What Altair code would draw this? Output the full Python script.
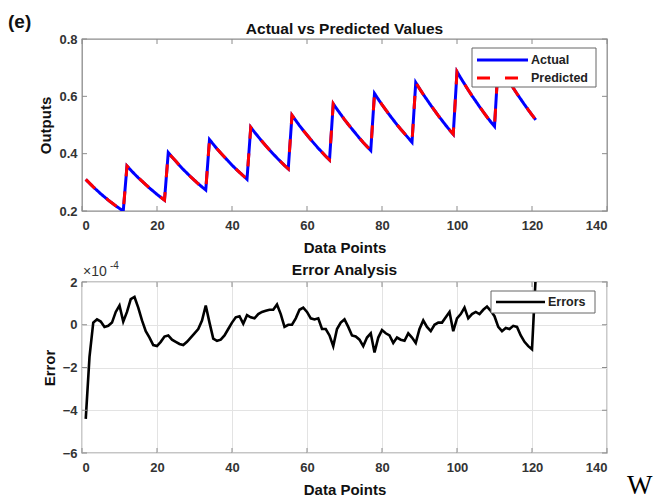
import altair as alt
import pandas as pd

# ---------------- data ----------------
x_points = list(range(1, 122))

actual = [
    0.310, 0.297, 0.284, 0.272, 0.260, 0.249, 0.238, 0.228, 0.218, 0.209, 0.200,
    0.357, 0.343, 0.329, 0.316, 0.304, 0.292, 0.280, 0.269, 0.258, 0.248, 0.238,
    0.404, 0.388, 0.374, 0.359, 0.345, 0.332, 0.319, 0.307, 0.295, 0.284, 0.273,
    0.449, 0.433, 0.417, 0.402, 0.388, 0.374, 0.360, 0.347, 0.335, 0.323, 0.311,
    0.492, 0.475, 0.459, 0.443, 0.428, 0.413, 0.399, 0.385, 0.372, 0.359, 0.347,
    0.534, 0.516, 0.498, 0.481, 0.465, 0.449, 0.434, 0.419, 0.405, 0.391, 0.378,
    0.574, 0.555, 0.537, 0.519, 0.502, 0.486, 0.470, 0.454, 0.439, 0.425, 0.411,
    0.610, 0.590, 0.571, 0.553, 0.535, 0.518, 0.501, 0.485, 0.470, 0.455, 0.440,
    0.648, 0.627, 0.607, 0.588, 0.569, 0.551, 0.533, 0.516, 0.499, 0.483, 0.468,
    0.686, 0.664, 0.643, 0.622, 0.602, 0.583, 0.564, 0.546, 0.528, 0.511, 0.495,
    0.716, 0.693, 0.671, 0.650, 0.629, 0.609, 0.590, 0.571, 0.553, 0.535, 0.518,
]

# errors in units of 1e-4 (axis shows x10^-4)
error_e4 = [
    -4.4, -1.5, 0.1, 0.25, 0.15, -0.1, -0.05, 0.1, 0.6, 0.9,
    0.15, 0.6, 1.2, 1.3, 0.8, 0.2, -0.3, -0.6, -0.95, -1.0,
    -0.8, -0.55, -0.5, -0.7, -0.8, -0.9, -0.95, -0.8, -0.6, -0.4,
    -0.2, 0.2, 0.9, 0.1, -0.65, -0.75, -0.7, -0.5, -0.2, 0.1,
    0.35, 0.4, 0.05, 0.45, 0.35, 0.3, 0.5, 0.6, 0.65, 0.7,
    0.7, 0.95, 0.5, -0.1, 0.0, 0.0, 0.3, 0.7, 0.8, 0.6,
    0.3, 0.25, 0.3, -0.2, -0.2, -0.5, -1.0, -0.2, 0.1, 0.25,
    -0.1, -0.5, -0.55, -0.7, -1.0, -0.6, -0.4, -1.3, -0.6, -0.25,
    -0.4, -0.5, -0.85, -0.6, -0.7, -0.75, -0.4, -0.6, -0.85, -0.2,
    0.2, -0.1, -0.3, 0.0, 0.1, 0.1, 0.35, 0.6, -0.3, 0.3,
    0.5, 0.8, 0.3, 0.5, 0.6, 0.5, 0.7, 0.85, 0.65, 0.4,
    -0.1, -0.3, -0.15, -0.2, -0.05, -0.1, -0.5, -0.8, -1.0, -1.15,
    2.3,
]

series_names = ["Actual", "Predicted"]
series_colors = ["#0000ff", "#ff0000"]
error_name = "Errors"
x_ticks = [0, 20, 40, 60, 80, 100, 120, 140]
y_ticks_top = [0.2, 0.4, 0.6, 0.8]
y_ticks_bottom = [-6, -4, -2, 0, 2]

predicted = [a - e * 1e-4 for a, e in zip(actual, error_e4)]

# ---------------- layout constants ----------------
PW, H_TOP, H_BOT, GAP = 525, 172, 171, 71
LEFT, TOP = 82, 39
FONT = "Liberation Sans"
FRAME = "#8c8c8c"
TICK_LEN = 5
DASH = [13, 15]
LW_TOP = 3
LW_ERR = 2.6

df_top = pd.DataFrame({
    "x": x_points * 2,
    "value": actual + predicted,
    "series": ["Actual"] * len(actual) + ["Predicted"] * len(predicted),
})
df_err = pd.DataFrame({"x": x_points, "err": error_e4})
df_xt = pd.DataFrame({"t": x_ticks})
df_yt_top = pd.DataFrame({"t": y_ticks_top})
df_yt_bot = pd.DataFrame({"t": y_ticks_bottom})

x_scale = alt.Scale(domain=[0, 140], nice=False, zero=False)
y_scale_top = alt.Scale(domain=[0.2, 0.8], nice=False, zero=False)
y_scale_bot = alt.Scale(domain=[-6, 2], nice=False, zero=False)


def x_axis(grid):
    return alt.Axis(values=x_ticks, title="Data Points", grid=grid, format="d",
                    labelPadding=8, titlePadding=8)


def y_axis(vals, fmt, title, grid):
    return alt.Axis(values=vals, format=fmt, title=title, grid=grid,
                    labelPadding=5, titlePadding=5)


def tick_layers(x_ax, y_sc, y_ax, df_y, h):
    bottom = alt.Chart(df_xt).mark_rule(color=FRAME, strokeWidth=1).encode(
        x=alt.X("t:Q", scale=x_scale, axis=x_ax),
        y=alt.value(h), y2=alt.value(h - TICK_LEN))
    top = alt.Chart(df_xt).mark_rule(color=FRAME, strokeWidth=1).encode(
        x=alt.X("t:Q", scale=x_scale, axis=x_ax),
        y=alt.value(0), y2=alt.value(TICK_LEN))
    left = alt.Chart(df_y).mark_rule(color=FRAME, strokeWidth=1).encode(
        y=alt.Y("t:Q", scale=y_sc, axis=y_ax),
        x=alt.value(0), x2=alt.value(TICK_LEN))
    right = alt.Chart(df_y).mark_rule(color=FRAME, strokeWidth=1).encode(
        y=alt.Y("t:Q", scale=y_sc, axis=y_ax),
        x=alt.value(PW), x2=alt.value(PW - TICK_LEN))
    return [bottom, top, left, right]


def text_layer(label, x, y, size, weight="normal", align="left", font=FONT, color="#111"):
    return alt.Chart(pd.DataFrame({"label": [label]})).mark_text(
        font=font, fontSize=size, fontWeight=weight, align=align, baseline="middle",
        color=color
    ).encode(x=alt.value(x), y=alt.value(y), text="label:N")


def legend_layers(x0, y0, w, h, entries):
    """entries: list of (label, color, dash, strokeWidth, row_y, symbol_length)"""
    box = alt.Chart(pd.DataFrame({"k": [0]})).mark_rect(
        fill="white", stroke="#666", strokeWidth=1
    ).encode(x=alt.value(x0), x2=alt.value(x0 + w), y=alt.value(y0), y2=alt.value(y0 + h))
    layers = [box]
    for label, color, dash, sw, ry, sym_len in entries:
        kw = dict(color=color, strokeWidth=sw)
        if dash is not None:
            kw["strokeDash"] = dash
        layers.append(alt.Chart(pd.DataFrame({"k": [0]})).mark_rule(**kw).encode(
            x=alt.value(x0 + 5), x2=alt.value(x0 + 5 + sym_len), y=alt.value(ry)))
        layers.append(text_layer(label, x0 + 5 + sym_len + 3, ry, 12.5, "bold",
                                 color="#222"))
    return layers


# ---------------- top panel ----------------
xa_top = x_axis(False)
ya_top = y_axis(y_ticks_top, ".1f", "Outputs", False)

lines = alt.Chart(df_top).mark_line(clip=True, strokeWidth=LW_TOP).encode(
    x=alt.X("x:Q", scale=x_scale, axis=xa_top),
    y=alt.Y("value:Q", scale=y_scale_top, axis=ya_top),
    color=alt.Color("series:N", scale=alt.Scale(domain=series_names, range=series_colors),
                    legend=None),
    strokeDash=alt.StrokeDash("series:N", scale=alt.Scale(domain=series_names,
                              range=[[1, 0], DASH]), legend=None),
)

top_legend = legend_layers(390, 9, 124, 39, [
    (series_names[0], series_colors[0], None, LW_TOP, 21, 51),
    (series_names[1], series_colors[1], DASH, LW_TOP, 39, 51),
])

top = alt.layer(
    lines, *tick_layers(xa_top, y_scale_top, ya_top, df_yt_top, H_TOP), *top_legend,
    text_layer("(e)", -74, -17, 19, "bold"),
    text_layer("Actual vs Predicted Values", PW / 2, -10, 15.5, "bold", align="center"),
).properties(width=PW, height=H_TOP)

# ---------------- bottom panel ----------------
xa_bot = x_axis(True)
ya_bot = y_axis(y_ticks_bottom, "d", "Error", True)

err_line = alt.Chart(df_err).mark_line(clip=True, strokeWidth=LW_ERR, color="#000000").encode(
    x=alt.X("x:Q", scale=x_scale, axis=xa_bot),
    y=alt.Y("err:Q", scale=y_scale_bot, axis=ya_bot),
)

bot_legend = legend_layers(409, 9, 104, 22, [
    (error_name, "#000000", None, LW_ERR, 20, 49),
])

bottom = alt.layer(
    err_line, *tick_layers(xa_bot, y_scale_bot, ya_bot, df_yt_bot, H_BOT), *bot_legend,
    text_layer("\u00d710", 1, -10, 14, color="#333"),
    text_layer("-4", 28, -16, 10, color="#333"),
    text_layer("Error Analysis", PW / 2, -12, 15.5, "bold", align="center"),
    text_layer("W", 545, 204, 27, font="Liberation Serif", color="#000"),
).properties(width=PW, height=H_BOT)

chart = alt.vconcat(top, bottom, spacing=GAP, bounds="flush").properties(
    autosize=alt.AutoSizeParams(type="none"),
    padding={"left": LEFT, "top": TOP, "right": 655 - LEFT - PW, "bottom": 503 - TOP},
).configure(background="white").configure_view(
    stroke=FRAME, strokeWidth=1.3
).configure_axis(
    domain=False, ticks=False, tickSize=0,
    labelFont=FONT, labelFontSize=13, labelColor="#333", labelFontWeight="bold",
    titleFont=FONT, titleFontSize=15, titleFontWeight="bold", titleColor="#111",
    gridColor="#e3e3e3", gridWidth=1,
)

chart.save("out.html", embed_options={"renderer": "svg", "actions": False})
